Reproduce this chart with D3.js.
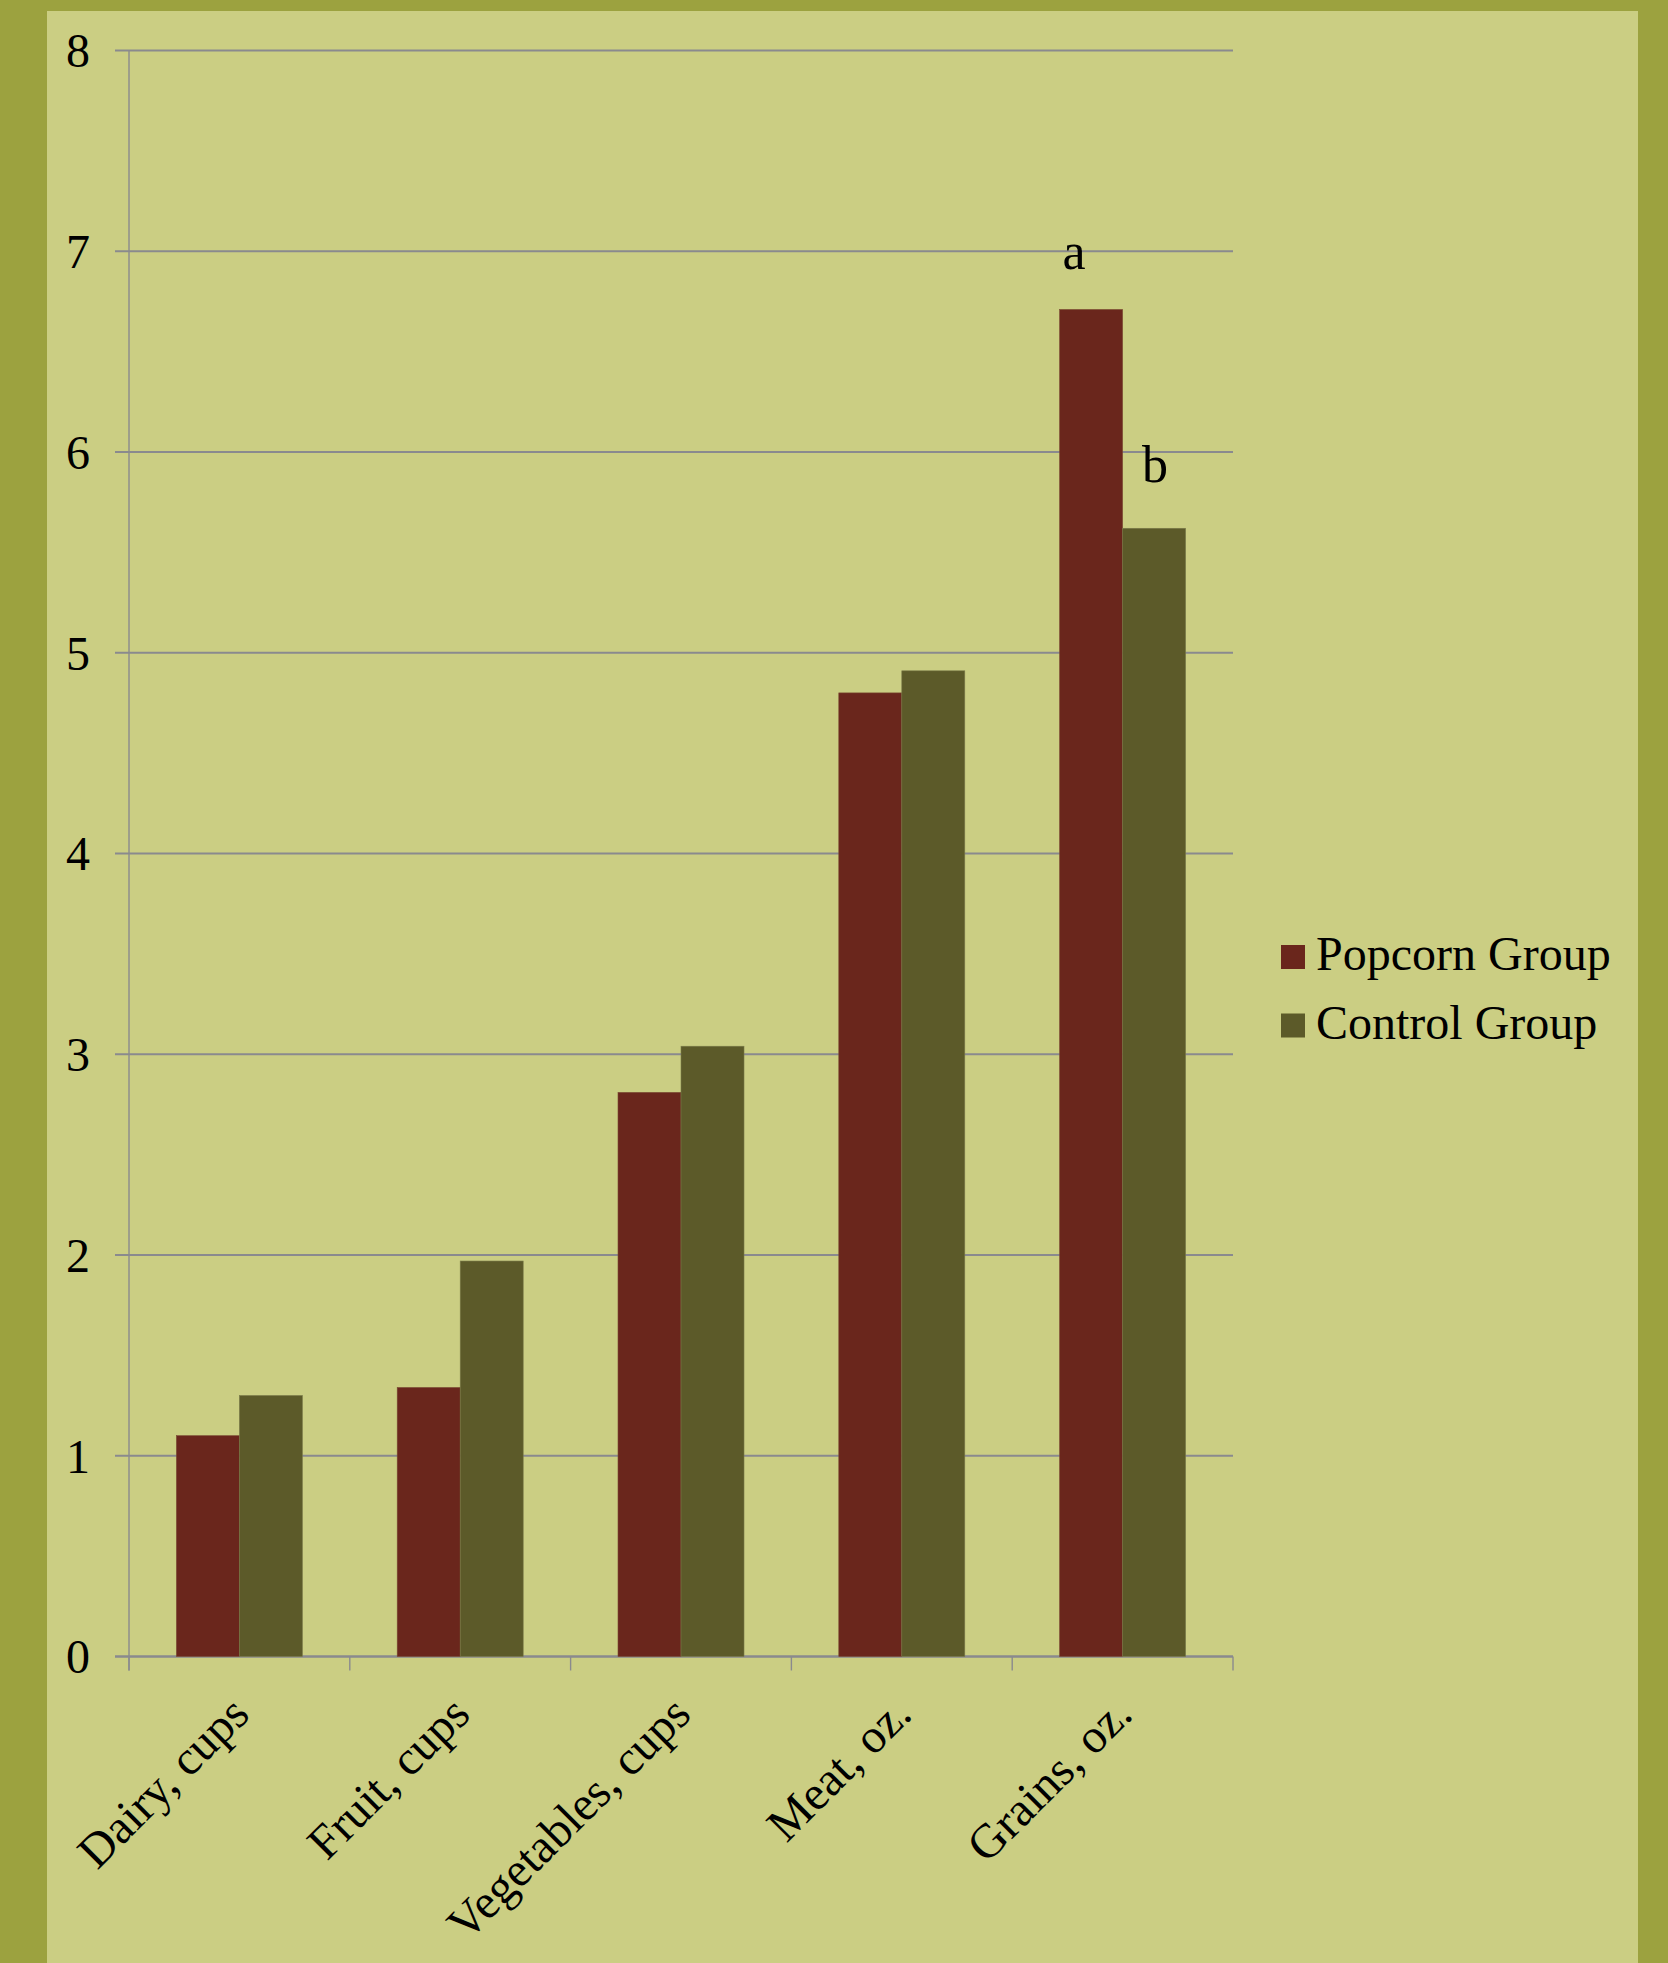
<!DOCTYPE html>
<html>
<head>
<meta charset="utf-8">
<script src="https://cdn.jsdelivr.net/npm/d3@7"></script>
<style>
  html, body { margin: 0; padding: 0; background: #9ca23f; }
  svg { display: block; }
</style>
</head>
<body>
<script>
const categories = ["Dairy, cups", "Fruit, cups", "Vegetables, cups", "Meat, oz.", "Grains, oz."];
const seriesNames = ["Popcorn Group", "Control Group"];
const popcorn = [1.10, 1.34, 2.81, 4.80, 6.71];
const control = [1.30, 1.97, 3.04, 4.91, 5.62];
const seriesColors = ["#6a261c", "#5c5a29"];
const yTicks = [0, 1, 2, 3, 4, 5, 6, 7, 8];
const annotations = [
  { category: "Grains, oz.", series: 0, text: "a" },
  { category: "Grains, oz.", series: 1, text: "b" }
];

const W = 1668, H = 1963;
const svg = d3.select("body").append("svg").attr("width", W).attr("height", H);

// background panel
svg.append("rect").attr("x", 0).attr("y", 0).attr("width", W).attr("height", H).attr("fill", "#9ca23f");
svg.append("rect").attr("x", 47).attr("y", 11).attr("width", 1638 - 47).attr("height", H - 11).attr("fill", "#cbce83");

const plot = { left: 129, right: 1233, top: 50.5, bottom: 1656.5 };
const font = "'Liberation Serif', 'Times New Roman', serif";

const x = d3.scaleBand().domain(categories).range([plot.left, plot.right]).paddingInner(0).paddingOuter(0);
const y = d3.scaleLinear().domain([0, 8]).range([plot.bottom, plot.top]);
const groupW = 126;
const xs = d3.scaleBand().domain([0, 1]).range([0, groupW]).padding(0);

// gridlines
svg.append("g").selectAll("line").data(yTicks).join("line")
  .attr("x1", plot.left - 14).attr("x2", plot.right)
  .attr("y1", d => y(d)).attr("y2", d => y(d))
  .attr("stroke", "#8a8a8e").attr("stroke-width", d => d === 0 ? 2.3 : 2);

// y-axis line
svg.append("line").attr("x1", plot.left).attr("x2", plot.left)
  .attr("y1", plot.top).attr("y2", plot.bottom + 14)
  .attr("stroke", "#8a8a8e").attr("stroke-width", 1.4);

// x ticks
const xTickPos = categories.map(c => x(c)).concat([plot.right]);
svg.append("g").selectAll("line").data(xTickPos).join("line")
  .attr("x1", d => d).attr("x2", d => d)
  .attr("y1", plot.bottom).attr("y2", plot.bottom + 14)
  .attr("stroke", "#8a8a8e").attr("stroke-width", 1.4);

// y tick labels
svg.append("g").selectAll("text").data(yTicks).join("text")
  .attr("x", 90).attr("y", d => y(d)).attr("dy", "0.35em")
  .attr("text-anchor", "end")
  .attr("font-family", font).attr("font-size", 48).attr("fill", "#000")
  .text(d => d);

// bars
const data = [];
categories.forEach((c, i) => {
  data.push({ c, s: 0, v: popcorn[i] });
  data.push({ c, s: 1, v: control[i] });
});
svg.append("g").selectAll("rect").data(data).join("rect")
  .attr("x", d => x(d.c) + (x.bandwidth() - groupW) / 2 + xs(d.s))
  .attr("width", xs.bandwidth())
  .attr("y", d => y(d.v))
  .attr("height", d => y(0) - y(d.v))
  .attr("fill", d => seriesColors[d.s])
  .attr("stroke", d => d.s === 0 ? "#7a4a33" : "#7a7a4a").attr("stroke-width", 0.6);

// x labels
svg.append("g").selectAll("text").data(categories).join("text")
  .attr("transform", d => `translate(${x(d) + x.bandwidth() / 2 + 12},${plot.bottom + 60}) rotate(-45)`)
  .attr("text-anchor", "end")
  .attr("font-family", font).attr("font-size", 48).attr("fill", "#000")
  .text(d => d);

// annotations
const annOffsets = [{ dx: -17, dy: -40 }, { dx: 1, dy: -46 }];
svg.append("g").selectAll("text").data(annotations).join("text")
  .attr("x", (d, i) => x(d.category) + (x.bandwidth() - groupW) / 2 + xs(d.series) + xs.bandwidth() / 2 + annOffsets[i].dx)
  .attr("y", (d, i) => y((d.series === 0 ? popcorn : control)[categories.indexOf(d.category)]) + annOffsets[i].dy)
  .attr("text-anchor", "middle")
  .attr("font-family", font).attr("font-size", 52).attr("fill", "#000")
  .text(d => d.text);

// legend
const legend = svg.append("g");
seriesNames.forEach((name, i) => {
  const yy = 945 + i * 68.5;
  legend.append("rect").attr("x", 1281).attr("y", yy).attr("width", 24).attr("height", 24).attr("fill", seriesColors[i]);
  legend.append("text").attr("x", 1316).attr("y", yy + 25)
    .attr("font-family", font).attr("font-size", 48).attr("fill", "#000")
    .text(name);
});
</script>
</body>
</html>
